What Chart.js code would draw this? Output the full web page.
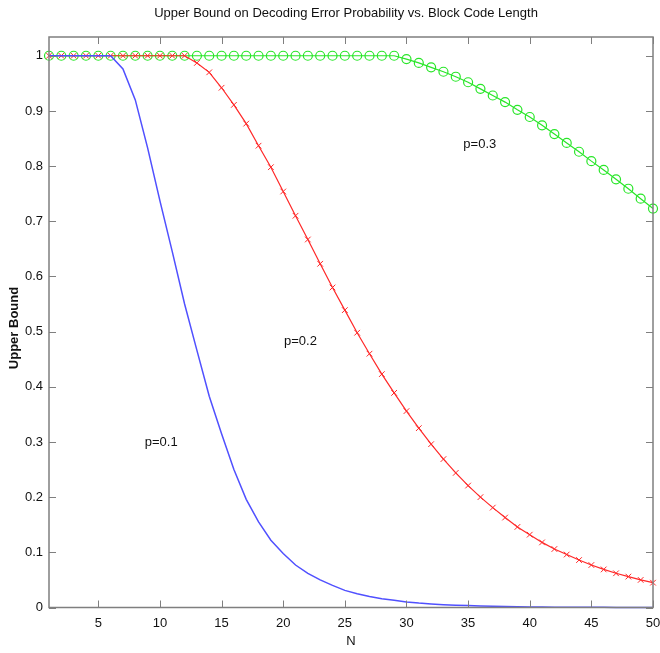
<!DOCTYPE html>
<html>
<head>
<meta charset="utf-8">
<script src="https://cdn.jsdelivr.net/npm/chart.js@4/dist/chart.umd.min.js"></script>
<style>
  html, body { margin: 0; padding: 0; background: #fff; }
  #wrap { width: 660px; height: 653px; }
</style>
</head>
<body>
<div id="wrap"><canvas id="bound" width="660" height="653"></canvas></div>
<script>
const blockLengths = [
  1, 2, 3, 4, 5, 6, 7, 8, 9, 10, 11, 12, 13, 14, 15, 16, 17, 18, 19, 20,
  21, 22, 23, 24, 25, 26, 27, 28, 29, 30, 31, 32, 33, 34, 35, 36, 37, 38, 39, 40,
  41, 42, 43, 44, 45, 46, 47, 48, 49, 50,
];

// p = 0.1 (blue, plain line)
const boundP1 = [
  1, 1, 1, 1, 1, 1, 0.976, 0.92, 0.833, 0.737,
  0.645, 0.55, 0.466, 0.383, 0.315, 0.25, 0.196, 0.155, 0.122, 0.098,
  0.077, 0.062, 0.05, 0.04, 0.031, 0.025, 0.02, 0.016, 0.013, 0.01,
  0.008, 0.0065, 0.0052, 0.0042, 0.0034, 0.0027, 0.0021, 0.0017, 0.0013, 0.001,
  0.0008, 0.0006, 0.0005, 0.0004, 0.0003, 0.00025, 0.0002, 0.00015, 0.00012, 0.0001,
];

// p = 0.2 (red, x markers)
const boundP2 = [
  1, 1, 1, 1, 1, 1, 1, 1, 1, 1,
  1, 1, 0.987, 0.97, 0.942, 0.911, 0.877, 0.837, 0.798, 0.754,
  0.71, 0.667, 0.623, 0.58, 0.539, 0.498, 0.46, 0.423, 0.389, 0.356,
  0.325, 0.296, 0.269, 0.244, 0.221, 0.2, 0.181, 0.163, 0.146, 0.132,
  0.118, 0.106, 0.096, 0.086, 0.077, 0.069, 0.062, 0.056, 0.05, 0.045,
];

// p = 0.3 (green, circle markers)
const boundP3 = [
  1, 1, 1, 1, 1, 1, 1, 1, 1, 1,
  1, 1, 1, 1, 1, 1, 1, 1, 1, 1,
  1, 1, 1, 1, 1, 1, 1, 1, 1, 0.994,
  0.987, 0.979, 0.971, 0.962, 0.952, 0.94, 0.928, 0.916, 0.902, 0.889,
  0.874, 0.858, 0.842, 0.826, 0.809, 0.793, 0.776, 0.759, 0.741, 0.723,
];

const xTicks = [5, 10, 15, 20, 25, 30, 35, 40, 45, 50];
const yTicks = [0, 0.1, 0.2, 0.3, 0.4, 0.5, 0.6, 0.7, 0.8, 0.9, 1];
const yTickLabels = ["0", "0.1", "0.2", "0.3", "0.4", "0.5", "0.6", "0.7", "0.8", "0.9", "1"];

const curveLabels = ["p=0.1", "p=0.2", "p=0.3"];
const curveLabelX = [10.1, 21.4, 35.95];
const curveLabelY = [0.3, 0.483, 0.84];

const titleText = "Upper Bound on Decoding Error Probability vs. Block Code Length";
const xTitle = "N";
const yTitle = "Upper Bound";

const FONT = "'Liberation Sans', Arial, sans-serif";
const AXIS_GRAY = "#7f7f7f";

function points(values) {
  return blockLengths.map((n, i) => ({ x: n, y: values[i] }));
}

// MATLAB-like box with inward ticks on all four sides, plus the text labels
const matlabFrame = {
  id: "matlabFrame",
  afterDraw(chart) {
    const { ctx, chartArea: area, scales } = chart;
    const tick = 7;
    ctx.save();
    ctx.strokeStyle = AXIS_GRAY;
    ctx.lineWidth = 1;
    xTicks.forEach((v) => {
      const px = Math.round(scales.x.getPixelForValue(v)) + 0.5;
      ctx.beginPath();
      ctx.moveTo(px, area.bottom);
      ctx.lineTo(px, area.bottom - tick);
      ctx.moveTo(px, area.top);
      ctx.lineTo(px, area.top + tick);
      ctx.stroke();
    });
    yTicks.forEach((v) => {
      const py = Math.round(scales.y.getPixelForValue(v)) + 0.5;
      ctx.beginPath();
      ctx.moveTo(area.left, py);
      ctx.lineTo(area.left + tick, py);
      ctx.moveTo(area.right, py);
      ctx.lineTo(area.right - tick, py);
      ctx.stroke();
    });
    ctx.lineWidth = 1.5;
    ctx.strokeRect(area.left, area.top, area.right - area.left, area.bottom - area.top);

    ctx.fillStyle = "#111";
    ctx.textAlign = "center";
    ctx.textBaseline = "middle";
    ctx.font = `13px ${FONT}`;
    ctx.fillText(titleText, 346, 13);
    ctx.fillText(xTitle, (area.left + area.right) / 2, 641);
    curveLabels.forEach((text, i) => {
      ctx.fillText(text, scales.x.getPixelForValue(curveLabelX[i]), scales.y.getPixelForValue(curveLabelY[i]));
    });

    ctx.font = `bold 13px ${FONT}`;
    ctx.translate(14, 328);
    ctx.rotate(-Math.PI / 2);
    ctx.fillText(yTitle, 0, 0);
    ctx.restore();
  },
};

new Chart(document.getElementById("bound"), {
  type: "line",
  data: {
    datasets: [
      {
        label: curveLabels[0],
        data: points(boundP1),
        borderColor: "rgb(80, 80, 255)",
        borderWidth: 1.5,
        pointRadius: 0,
        tension: 0,
      },
      {
        label: curveLabels[1],
        data: points(boundP2),
        borderColor: "rgb(255, 40, 40)",
        borderWidth: 1.2,
        pointStyle: "crossRot",
        pointRadius: 4,
        pointBorderWidth: 1,
        pointBorderColor: "rgb(255, 40, 40)",
        tension: 0,
      },
      {
        label: curveLabels[2],
        data: points(boundP3),
        borderColor: "rgb(40, 230, 40)",
        borderWidth: 1.2,
        pointStyle: "circle",
        pointRadius: 4.5,
        pointBorderWidth: 1.2,
        pointBorderColor: "rgb(40, 230, 40)",
        pointBackgroundColor: "rgba(0, 0, 0, 0)",
        tension: 0,
      },
    ],
  },
  options: {
    responsive: false,
    animation: false,
    events: [],
    clip: false,
    layout: { padding: { top: 37, right: 7, left: 0, bottom: 0 } },
    plugins: {
      legend: { display: false },
      tooltip: { enabled: false },
    },
    scales: {
      x: {
        type: "linear",
        min: 1,
        max: 50,
        afterBuildTicks: (scale) => { scale.ticks = xTicks.map((value) => ({ value })); },
        afterFit: (scale) => {
          scale.height = 45.5;
          scale.paddingLeft = 0;
          scale.paddingRight = 0;
        },
        grid: { display: false, drawTicks: false },
        border: { display: false },
        ticks: { color: "#111", font: { family: FONT, size: 13 }, padding: 8, maxRotation: 0 },
      },
      y: {
        type: "linear",
        min: 0,
        max: 1.034,
        afterBuildTicks: (scale) => { scale.ticks = yTicks.map((value) => ({ value })); },
        afterFit: (scale) => {
          scale.width = 49;
          scale.paddingTop = 0;
          scale.paddingBottom = 0;
        },
        grid: { display: false, drawTicks: false },
        border: { display: false },
        ticks: {
          color: "#111",
          font: { family: FONT, size: 13 },
          padding: 6,
          callback: (value) => {
            const idx = yTicks.findIndex((t) => Math.abs(t - value) < 1e-9);
            return idx >= 0 ? yTickLabels[idx] : "";
          },
        },
      },
    },
  },
  plugins: [matlabFrame],
});
</script>
</body>
</html>
